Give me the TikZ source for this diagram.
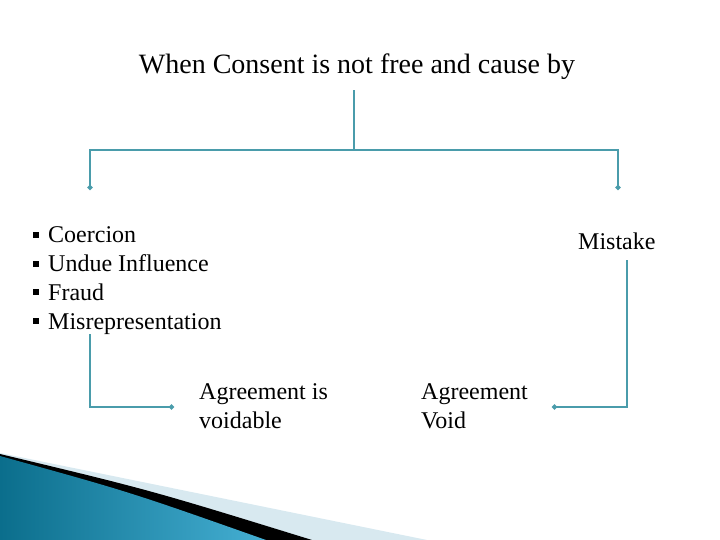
\documentclass[tikz,border=0pt]{standalone}
\usepackage{fontspec}
\setmainfont{Liberation Serif}
\usetikzlibrary{arrows.meta,positioning}
\definecolor{link}{HTML}{4A9CAB}
\definecolor{deep}{HTML}{0B6E8C}
\definecolor{sky}{HTML}{45AFD3}
\definecolor{pale}{HTML}{D8E9F0}
\newcommand{\sqbullet}{\rule[5pt]{6pt}{6pt}\hspace{9pt}}

\begin{document}
\begin{tikzpicture}[x=1pt, y=-1pt,
      txt/.style={inner sep=0pt, anchor=base west, align=left, font=\fontsize{24}{28.7}\selectfont},
      arr/.style={-{Circle[length=5pt]}, line width=1.5pt, link},
      conn/.style={line width=1.2pt, link}]
    \useasboundingbox (0,0) rectangle (720,540);
    % corner swoosh
    \fill[pale] (0,453) -- (427,540) -- (0,540) -- cycle;
    \fill[black] (0,454) .. controls (150,490) .. (312,540) -- (0,540) -- cycle;
    \shade[left color=deep, right color=sky] (0,456) .. controls (130,492) .. (266,540) -- (0,540) -- cycle;
    % texts
    \node[inner sep=0pt, anchor=base, font=\fontsize{28}{34}\selectfont] (title) at (357,74) {When Consent is not free and cause by};
    \node[txt] (causes) at (33,329) {\sqbullet Coercion\\ \sqbullet Undue Influence\\ \sqbullet Fraud\\ \sqbullet Misrepresentation};
    \node[txt] (mistake) at (578,249) {Mistake};
    \node[txt] (voidable) at (199,428) {Agreement is\\ voidable};
    \node[txt] (void) at (421,428) {Agreement\\ Void};
    % connectors
    \coordinate (split) at (354,150);
    \coordinate (lend) at (90,190);
    \coordinate (rend) at (618,190);
    \draw[conn] (title.south -| split) ++(0,10) -- (split);
    \draw[arr] (split) -| (lend);
    \draw[arr] (split) -| (rend);
    \draw[arr] (causes.south -| lend) |- ([xshift=-25pt]voidable.west |- 0,407);
    \draw[arr] ([yshift=-11pt]mistake.south -| 627,0) |- ([xshift=131pt]void.west |- 0,407);
  \end{tikzpicture}
\end{document}
